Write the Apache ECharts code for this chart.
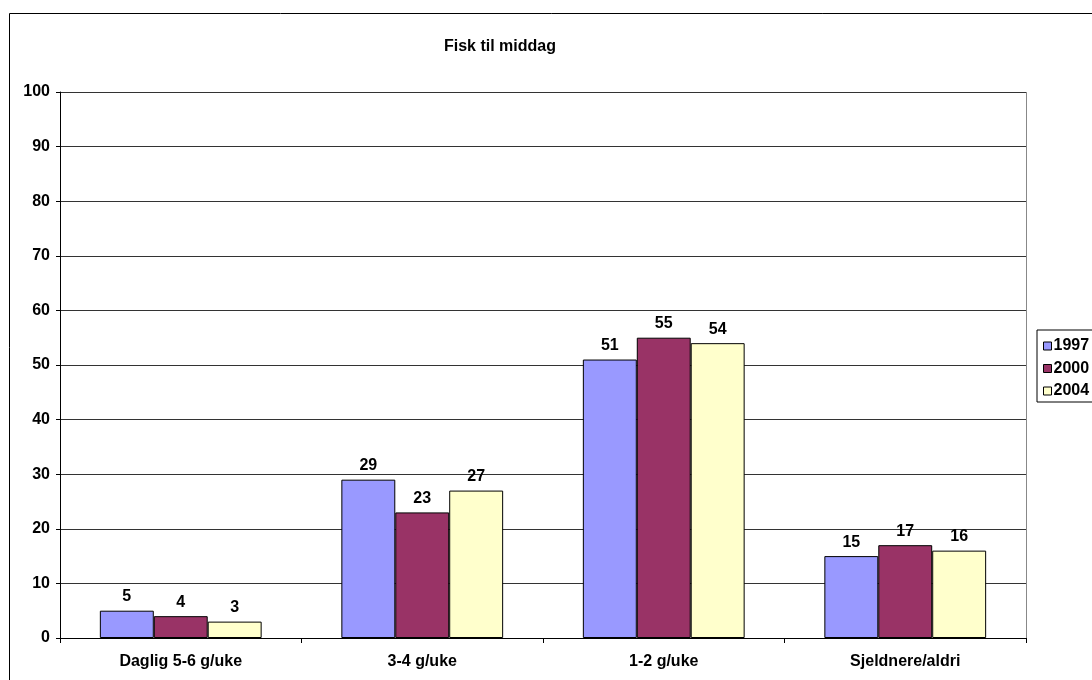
<!DOCTYPE html>
<html>
<head>
<meta charset="utf-8">
<script src="https://cdn.jsdelivr.net/npm/echarts@6/dist/echarts.min.js"></script>
<style>
  html, body { margin: 0; padding: 0; background: #fff; }
  #chart { width: 1092px; height: 680px; }
</style>
</head>
<body>
<div id="chart"></div>
<script>
// Fish for dinner: share (%) by frequency, survey years 1997, 2000, 2004
const categories = ['Daglig 5-6 g/uke', '3-4 g/uke', '1-2 g/uke', 'Sjeldnere/aldri'];
const years = ['1997', '2000', '2004'];
const values1997 = [5, 29, 51, 15];
const values2000 = [4, 23, 55, 17];
const values2004 = [3, 27, 54, 16];
const yTicks = [0, 10, 20, 30, 40, 50, 60, 70, 80, 90, 100];

const colors = ['#9999FF', '#993366', '#FFFFCC'];
const font = 'Arial, "Liberation Sans", sans-serif';
const fontSize = 16;

const chart = echarts.init(document.getElementById('chart'));

const makeSeries = (name, data, color) => ({
  name: name,
  type: 'bar',
  data: data,
  barGap: '0%',
  barCategoryGap: '33%',
  itemStyle: { color: color, borderColor: '#000', borderWidth: 1 },
  label: {
    show: true,
    position: 'top',
    distance: 6,
    color: '#000',
    fontFamily: font,
    fontWeight: 'bold',
    fontSize: fontSize
  }
});

chart.setOption({
  animation: false,
  title: {
    text: 'Fisk til middag',
    left: 495,
    top: 34,
    textAlign: 'center',
    textStyle: { fontFamily: font, fontWeight: 'bold', fontSize: fontSize, color: '#000' }
  },
  legend: {
    orient: 'vertical',
    left: 1037,
    top: 330,
    itemWidth: 8,
    itemHeight: 8,
    itemGap: 6.5,
    padding: [8, 20, 3, 6],
    borderColor: '#000',
    borderWidth: 1,
    icon: 'rect',
    data: years.map((y, i) => ({
      name: y,
      itemStyle: { color: colors[i], borderColor: '#000', borderWidth: 1 }
    })),
    textStyle: { fontFamily: font, fontWeight: 'bold', fontSize: fontSize, lineHeight: 14, color: '#000', padding: [0, 0, 0, -3] }
  },
  grid: { left: 60, top: 92, width: 966, height: 546, containLabel: false },
  xAxis: {
    type: 'category',
    data: categories,
    axisLine: { lineStyle: { color: '#000', width: 1 } },
    axisTick: { show: true, length: 5, lineStyle: { color: '#000' } },
    axisLabel: { fontFamily: font, fontWeight: 'bold', fontSize: fontSize, color: '#000', margin: 16 },
    splitLine: { show: false }
  },
  yAxis: {
    type: 'value',
    min: yTicks[0],
    max: yTicks[yTicks.length - 1],
    interval: yTicks[1] - yTicks[0],
    axisLine: { show: true, lineStyle: { color: '#000', width: 1 } },
    axisTick: { show: true, length: 4, lineStyle: { color: '#000' } },
    axisLabel: { fontFamily: font, fontWeight: 'bold', fontSize: fontSize, color: '#000', margin: 10 },
    splitLine: { show: true, lineStyle: { color: '#333', width: 1 } }
  },
  graphic: [
    {
      // outer chart frame
      type: 'rect',
      shape: { x: 9.5, y: 13.5, width: 1200, height: 800 },
      style: { fill: 'none', stroke: '#000', lineWidth: 1 },
      silent: true,
      z: -1
    },
    {
      // right edge of plot area
      type: 'line',
      shape: { x1: 1026.5, y1: 92, x2: 1026.5, y2: 638 },
      style: { stroke: '#888', lineWidth: 1 },
      silent: true
    }
  ],
  series: [
    makeSeries(years[0], values1997, colors[0]),
    makeSeries(years[1], values2000, colors[1]),
    makeSeries(years[2], values2004, colors[2])
  ]
});
</script>
</body>
</html>
